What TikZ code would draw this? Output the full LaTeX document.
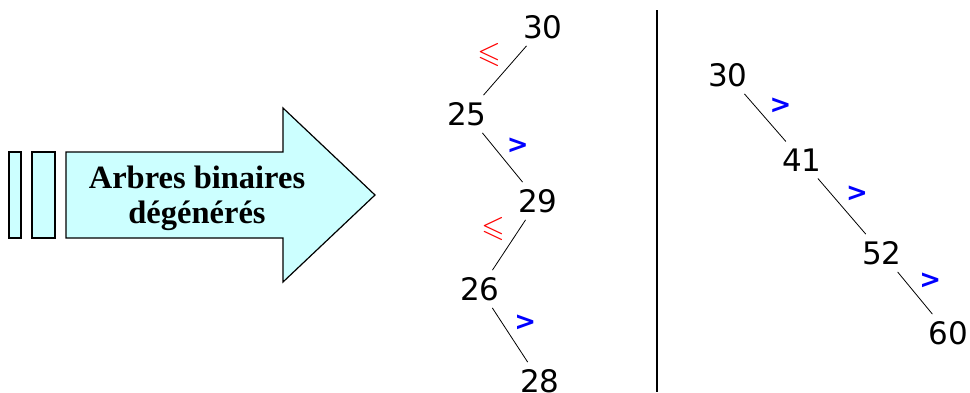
\documentclass[tikz,border=0pt]{standalone}
\usepackage{amsmath, amssymb}
\usepackage{fontspec}
\setmainfont{Liberation Serif}
\newfontfamily\numfont{DejaVu Sans}
\usepackage{tikz}
\usetikzlibrary{arrows}
\definecolor{paleblue}{HTML}{CCFFFF}
\tikzstyle{bar} = [draw=black, line width=1.2pt, fill=paleblue]
\tikzstyle{title} = [text centered, align=center, font=\fontsize{32.5}{35}\selectfont\bfseries]
\tikzstyle{num} = [inner sep=7pt, font=\numfont\fontsize{31}{31}\selectfont]
\tikzstyle{edge} = [black, line width=0.8pt]
\tikzstyle{le} = [red, inner sep=4pt, font=\fontsize{30}{30}\selectfont]
\tikzstyle{gt} = [blue, inner sep=4pt, font=\numfont\bfseries\fontsize{26}{26}\selectfont]

\begin{document}
\begin{tikzpicture}[x=1pt, y=-1pt, node distance=87pt]
                \useasboundingbox (0,0) rectangle (970,392);

% ---------------------------------------------
% Big arrow
% ---------------------------------------------
                \draw [bar] (9,152) rectangle (21,238);
                \draw [bar] (32,152) rectangle (55,238);
                \draw [bar] (66,152) -- (283,152) -- (283,108) -- (375,195)
                        -- (283,282) -- (283,238) -- (66,238) -- cycle;
                \node (label) [title] at (197,198) {Arbres binaires\\dégénérés};

% ---------------------------------------------
% Left tree
% ---------------------------------------------
                \node (l30) [num] at (543,27) {30};
                \node (l25) [num, below of = l30, xshift=-76pt] {25};
                \node (l29) [num, below of = l25, xshift=71pt] {29};
                \node (l26) [num, below of = l29, xshift=-58pt, yshift=-1pt] {26};
                \node (l28) [num, below of = l26, xshift=60pt, yshift=-5pt] {28};

                %  All edges (left tree)
                \draw [edge] (l30) -- node (c1) [le, above left] {$\boldsymbol{\leqslant}$} (l25);
                \draw [edge] (l25) -- node (c2) [gt, above right] {>} (l29);
                \draw [edge] (l29) -- node (c3) [le, above left] {$\boldsymbol{\leqslant}$} (l26);
                \draw [edge] (l26) -- node (c4) [gt, above right] {>} (l28);

% ---------------------------------------------
% Divider
% ---------------------------------------------
                \coordinate (top) at (657,10);
                \coordinate (bottom) at (657,392);
                \draw [line width=2pt] (top) -- (bottom);

% ---------------------------------------------
% Right tree
% ---------------------------------------------
                \node (r30) [num] at (728,75) {30};
                \node (r41) [num, below of = r30, xshift=74pt, yshift=2pt] {41};
                \node (r52) [num, below of = r41, xshift=80pt, yshift=-6pt] {52};
                \node (r60) [num, below of = r52, xshift=66pt, yshift=7pt] {60};

                %  All edges (right tree)
                \draw [edge] (r30) -- node (d1) [gt, above right] {>} (r41);
                \draw [edge] (r41) -- node (d2) [gt, above right] {>} (r52);
                \draw [edge] (r52) -- node (d3) [gt, above right] {>} (r60);

            \end{tikzpicture}
\end{document}
